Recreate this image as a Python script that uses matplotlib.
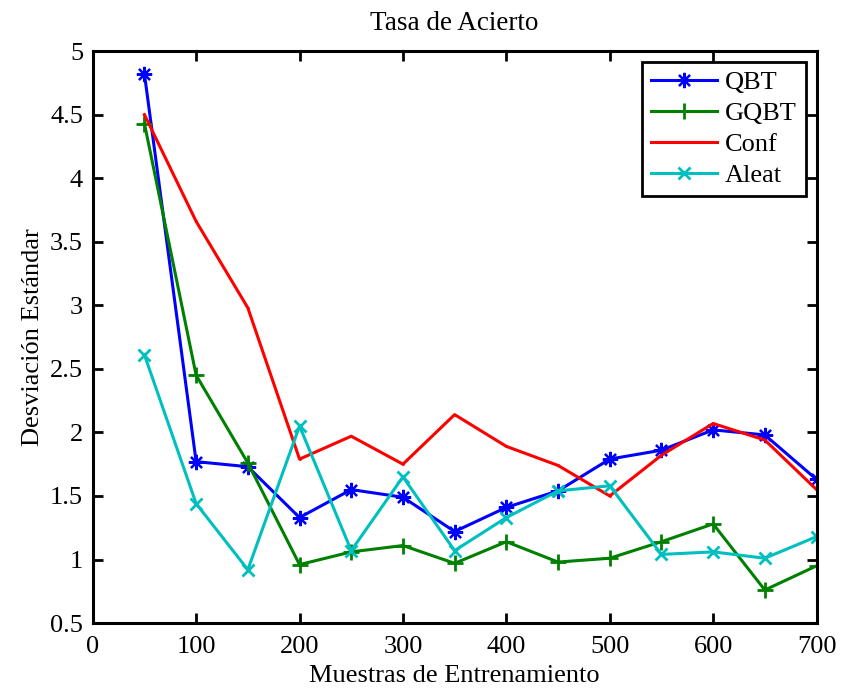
import numpy as np
import matplotlib.pyplot as plt

plt.rcParams['font.family'] = ['Liberation Serif', 'DejaVu Serif']

muestras = [50, 100, 150, 200, 250, 300, 350, 400, 450, 500, 550, 600, 650, 700]
qbt   = [4.82, 1.77, 1.73, 1.33, 1.55, 1.49, 1.22, 1.41, 1.54, 1.79, 1.86, 2.02, 1.98, 1.63]
gqbt  = [4.43, 2.45, 1.76, 0.96, 1.06, 1.11, 0.97, 1.14, 0.98, 1.01, 1.14, 1.28, 0.76, 0.95]
conf  = [4.50, 3.66, 2.98, 1.79, 1.97, 1.75, 2.14, 1.89, 1.74, 1.50, 1.82, 2.07, 1.94, 1.55]
aleat = [2.61, 1.44, 0.92, 2.05, 1.07, 1.65, 1.07, 1.33, 1.54, 1.58, 1.04, 1.06, 1.01, 1.18]

fig = plt.figure(figsize=(8.43, 6.9), dpi=100)
ax = fig.add_axes([0.110, 0.097, 0.8586, 0.829])

# asterisk marker like matlab's '*'
ax.plot(muestras, qbt, color=(0, 0, 1), lw=2.2, marker=(8, 2, 0), ms=11, mew=1.6, label='QBT')
ax.plot(muestras, gqbt, color=(0, 0.5, 0), lw=2.2, marker='+', ms=11, mew=2, label='GQBT')
ax.plot(muestras, conf, color=(1, 0, 0), lw=2.2, marker='.', ms=2, label='Conf')
ax.plot(muestras, aleat, color=(0, 0.75, 0.75), lw=2.2, marker='x', ms=8, mew=2, label='Aleat')

ax.set_xlim(0, 700)
ax.set_ylim(0.5, 5)
ax.set_xticks(np.arange(0, 701, 100))
ax.set_yticks(np.arange(0.5, 5.01, 0.5))
ax.set_yticklabels(['0.5', '1', '1.5', '2', '2.5', '3', '3.5', '4', '4.5', '5'])
ax.tick_params(direction='in', top=True, right=True, length=7, width=2, labelsize=19)
ax.tick_params(axis='x', pad=9)
ax.tick_params(axis='y', pad=7)
for s in ax.spines.values():
    s.set_linewidth(2.2)

ax.set_title('Tasa de Acierto', fontsize=19.5, pad=15)
ax.set_xlabel('Muestras de Entrenamiento', fontsize=19, labelpad=5)
ax.set_ylabel('Desviación Estándar', fontsize=19, labelpad=4)

leg = ax.legend(loc='upper right', fontsize=19, fancybox=False, edgecolor='black',
                framealpha=1, handlelength=2.5, borderaxespad=0.4, labelspacing=0.28,
                handletextpad=0.3, borderpad=0.35)
leg.get_frame().set_linewidth(2)

fig.savefig('out.png', dpi=100)
